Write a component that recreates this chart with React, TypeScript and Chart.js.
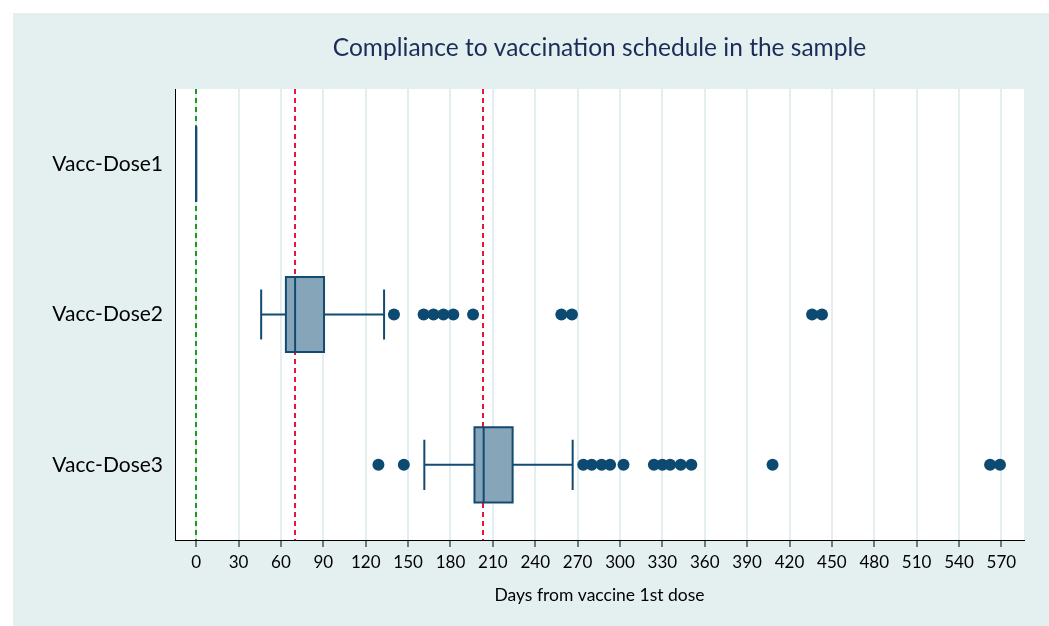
import { useEffect, useRef } from 'react';
import { Chart, registerables } from 'chart.js';

Chart.register(...registerables);

// ---- data (days from 1st vaccine dose) ----
const categories = ['Vacc-Dose1', 'Vacc-Dose2', 'Vacc-Dose3'];
const whiskerLow = [0, 46, 161.5];
const q1 = [0, 63.5, 197];
const medians = [0, 70, 203.5];
const q3 = [0, 90.5, 224];
const whiskerHigh = [0, 133, 266.5];
const outliersDose2 = [140, 161, 168, 175, 182, 196, 258.5, 266, 436, 443];
const outliersDose3 = [129, 147, 274, 280, 287, 293, 302.5, 324, 330, 335.5, 343, 350.5, 408, 562, 569];
const referenceDays = [0, 70, 203];
const referenceColors = ['#1e9a1e', '#e8163c', '#e8163c'];
const xTickValues = [0, 30, 60, 90, 120, 150, 180, 210, 240, 270, 300, 330, 360, 390, 420, 450, 480, 510, 540, 570];

const TITLE = 'Compliance to vaccination schedule in the sample';
const X_TITLE = 'Days from vaccine 1st dose';
const FONT = 'Lato, "DejaVu Sans", sans-serif';

const BOX_FILL = '#87a5b9';
const BOX_LINE = '#134a72';
const POINT_COLOR = '#0c4a72';

const boxPlugin = {
  id: 'boxes',
  beforeDraw(chart: any) {
    const { ctx, chartArea } = chart;
    ctx.save();
    ctx.fillStyle = '#ffffff';
    ctx.fillRect(chartArea.left, chartArea.top, chartArea.right - chartArea.left, chartArea.bottom - chartArea.top);
    ctx.restore();
  },
  beforeDatasetsDraw(chart: any) {
    const { ctx, chartArea, scales } = chart;
    const x = scales.x;
    const y = scales.y;
    ctx.save();
    ctx.beginPath();
    ctx.rect(chartArea.left, chartArea.top, chartArea.right - chartArea.left, chartArea.bottom - chartArea.top);
    ctx.clip();
    // reference lines
    referenceDays.forEach((d, i) => {
      const px = Math.round(x.getPixelForValue(d));
      ctx.beginPath();
      ctx.setLineDash([5, 4]);
      ctx.strokeStyle = referenceColors[i];
      ctx.lineWidth = 2;
      ctx.moveTo(px, chartArea.top);
      ctx.lineTo(px, chartArea.bottom);
      ctx.stroke();
    });
    ctx.setLineDash([]);
    // boxes
    categories.forEach((_, i) => {
      const v = i + 1;
      const yc = y.getPixelForValue(v);
      const hb = Math.abs(y.getPixelForValue(v + 0.25) - yc);
      const hc = Math.abs(y.getPixelForValue(v + 0.167) - yc);
      const xq1 = x.getPixelForValue(q1[i]);
      const xq3 = x.getPixelForValue(q3[i]);
      const xm = x.getPixelForValue(medians[i]);
      const xl = x.getPixelForValue(whiskerLow[i]);
      const xh = x.getPixelForValue(whiskerHigh[i]);
      ctx.strokeStyle = BOX_LINE;
      ctx.lineWidth = 2;
      // whiskers
      ctx.beginPath();
      ctx.moveTo(xl, yc);
      ctx.lineTo(xq1, yc);
      ctx.moveTo(xq3, yc);
      ctx.lineTo(xh, yc);
      if (xh > xl) {
        ctx.moveTo(xl, yc - hc);
        ctx.lineTo(xl, yc + hc);
        ctx.moveTo(xh, yc - hc);
        ctx.lineTo(xh, yc + hc);
      }
      ctx.stroke();
      // box
      ctx.fillStyle = BOX_FILL;
      ctx.fillRect(xq1, yc - hb, xq3 - xq1, 2 * hb);
      ctx.beginPath();
      ctx.rect(xq1, yc - hb, xq3 - xq1, 2 * hb);
      ctx.stroke();
      // median
      ctx.beginPath();
      ctx.moveTo(xm, yc - hb);
      ctx.lineTo(xm, yc + hb);
      ctx.stroke();
    });
    ctx.restore();
  },
  afterDraw(chart: any) {
    const { ctx, chartArea } = chart;
    ctx.save();
    ctx.fillStyle = '#1b2c58';
    ctx.font = `24.5px ${FONT}`;
    ctx.textAlign = 'center';
    ctx.textBaseline = 'middle';
    ctx.fillText(TITLE, (chartArea.left + chartArea.right) / 2, 48);
    ctx.restore();
  },
};

export default function App() {
  const ref = useRef<HTMLCanvasElement>(null);
  useEffect(() => {
    const chart = new Chart(ref.current as HTMLCanvasElement, {
      type: 'scatter',
      data: {
        datasets: [
          {
            label: categories[1],
            data: outliersDose2.map((d) => ({ x: d, y: 2 })),
            pointRadius: 6,
            pointBackgroundColor: POINT_COLOR,
            pointBorderWidth: 0,
          },
          {
            label: categories[2],
            data: outliersDose3.map((d) => ({ x: d, y: 3 })),
            pointRadius: 6,
            pointBackgroundColor: POINT_COLOR,
            pointBorderWidth: 0,
          },
        ],
      },
      options: {
        responsive: false,
        animation: false,
        devicePixelRatio: 1,
        layout: { padding: { top: 89, right: 25, left: 0, bottom: 0 } },
        plugins: {
          legend: { display: false },
          tooltip: { enabled: false },
          title: { display: false },
        },
        scales: {
          x: {
            type: 'linear',
            min: -15,
            max: 586,
            afterBuildTicks: (scale: any) => {
              scale.ticks = xTickValues.map((v) => ({ value: v }));
            },
            afterFit: (scale: any) => {
              scale.height = 86;
            },
            grid: {
              display: true,
              color: '#e3eef0',
              lineWidth: 2,
              tickColor: '#000000',
              tickLength: 7,
              tickWidth: 1,
            },
            border: { display: true, color: '#000000', width: 1 },
            ticks: {
              color: '#000000',
              font: { family: FONT, size: 17 },
              padding: 5,
              maxRotation: 0,
              autoSkip: false,
              callback: (v: any) => String(v),
            },
            title: {
              display: true,
              text: X_TITLE,
              color: '#000000',
              font: { family: FONT, size: 17.5 },
              padding: { top: 0, bottom: 20 },
            },
          },
          y: {
            type: 'linear',
            min: 0.5,
            max: 3.5,
            reverse: true,
            afterBuildTicks: (scale: any) => {
              scale.ticks = categories.map((_, i) => ({ value: i + 1 }));
            },
            afterFit: (scale: any) => {
              scale.width = 175;
            },
            grid: { display: false, drawTicks: false },
            border: { display: true, color: '#000000', width: 1 },
            ticks: {
              color: '#000000',
              font: { family: FONT, size: 21 },
              padding: 12,
              autoSkip: false,
              callback: (v: any) => categories[Math.round(Number(v)) - 1] ?? '',
            },
          },
        },
      },
      plugins: [boxPlugin],
    } as any);
    return () => chart.destroy();
  }, []);
  return (
    <div style={{ position: 'fixed', left: 0, top: 0, width: 1049, height: 626, background: '#ffffff' }}>
      <div style={{ position: 'absolute', left: 13, top: 13, right: 0, bottom: 0, background: '#e4f0f0' }} />
      <canvas
        ref={ref}
        width={1049}
        height={626}
        style={{ position: 'absolute', left: 0, top: 0, width: 1049, height: 626 }}
      />
    </div>
  );
}
